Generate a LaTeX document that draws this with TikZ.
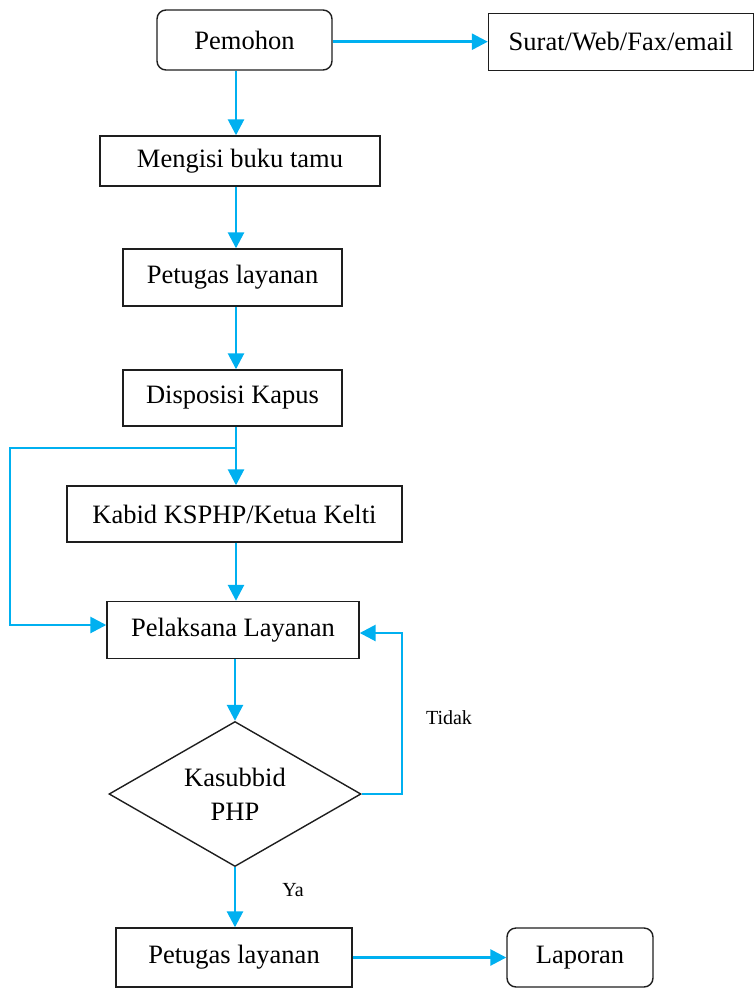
\documentclass[tikz,border=0pt]{standalone}
\usepackage{fontspec}
\setmainfont{Liberation Serif}
\usetikzlibrary{arrows.meta,shapes.geometric}
\definecolor{flow}{RGB}{0,176,240}
\definecolor{edge}{RGB}{30,30,30}
\begin{document}
\begin{tikzpicture}[x=1pt,y=1pt,
  box/.style={draw=edge,line width=1.4pt,inner sep=0pt,align=center,font=\fontsize{26.5}{30}\selectfont},
  rbox/.style={box,rounded corners=9pt},
  arr/.style={draw=flow,line width=2.7pt,-{Triangle[width=16pt,length=16pt]}},
  lab/.style={font=\fontsize{20}{24}\selectfont}]
\useasboundingbox (0,0) rectangle (755,-988);
% nodes
\node[rbox,minimum width=175,minimum height=60] (pem) at (244.5,-40) {Pemohon};
\node[box,minimum width=265,minimum height=57] (surat) at (621,-42) {Surat/Web/Fax/email};
\node[box,minimum width=280,minimum height=50] (meng) at (240,-161) {Mengisi buku tamu};
\node[box,minimum width=219,minimum height=57] (pet1) at (232.5,-277.5) {Petugas layanan};
\node[box,minimum width=219,minimum height=56] (disp) at (232.5,-398) {Disposisi Kapus};
\node[box,minimum width=335,minimum height=56] (kabid) at (234.5,-514) {Kabid KSPHP/Ketua Kelti};
\node[box,minimum width=252,minimum height=57] (pel) at (233,-630) {Pelaksana Layanan};
\node[draw=edge,line width=1.4pt,diamond,shape aspect=1.73,minimum width=252,minimum height=145,inner sep=0pt,
  align=center,font=\fontsize{26.5}{34}\selectfont] (dia) at (235,-794) {Kasubbid\\PHP};
\node[box,minimum width=236,minimum height=59] (pet2) at (234,-957.5) {Petugas layanan};
\node[rbox,minimum width=146,minimum height=59] (lap) at (580,-957.5) {Laporan};
\node[lab] (tidak) at (449,-718) {Tidak};
\node[lab] (ya) at (293,-890) {Ya};
% helper coordinates
\coordinate (ax) at (236,0);
\coordinate (br) at (236,-448);
\coordinate (bl) at (10,-448);
\coordinate (lp) at (10,-625);
\coordinate (rp) at (402,-633);
% connectors
\draw[arr] (pem.east |- 0,-41.7) -- (surat.west |- 0,-41.7);
\draw[arr] (pem.south -| ax) -- (meng.north -| ax);
\draw[arr] (meng.south -| ax) -- (pet1.north -| ax);
\draw[arr] (pet1.south -| ax) -- (disp.north -| ax);
\draw[arr] (disp.south -| ax) -- (kabid.north -| ax);
\draw[arr] (br) -- (bl) -- (lp) -- (pel.west |- lp);
\draw[arr] (kabid.south -| ax) -- (pel.north -| ax);
\draw[arr] (pel.south -| dia.north) -- (dia.north);
\draw[arr] (dia.east) -| (rp) -- (pel.east |- rp);
\draw[arr] (dia.south) -- (pet2.north -| dia.south);
\draw[arr] (pet2.east) -- (lap.west);
\end{tikzpicture}
\end{document}
